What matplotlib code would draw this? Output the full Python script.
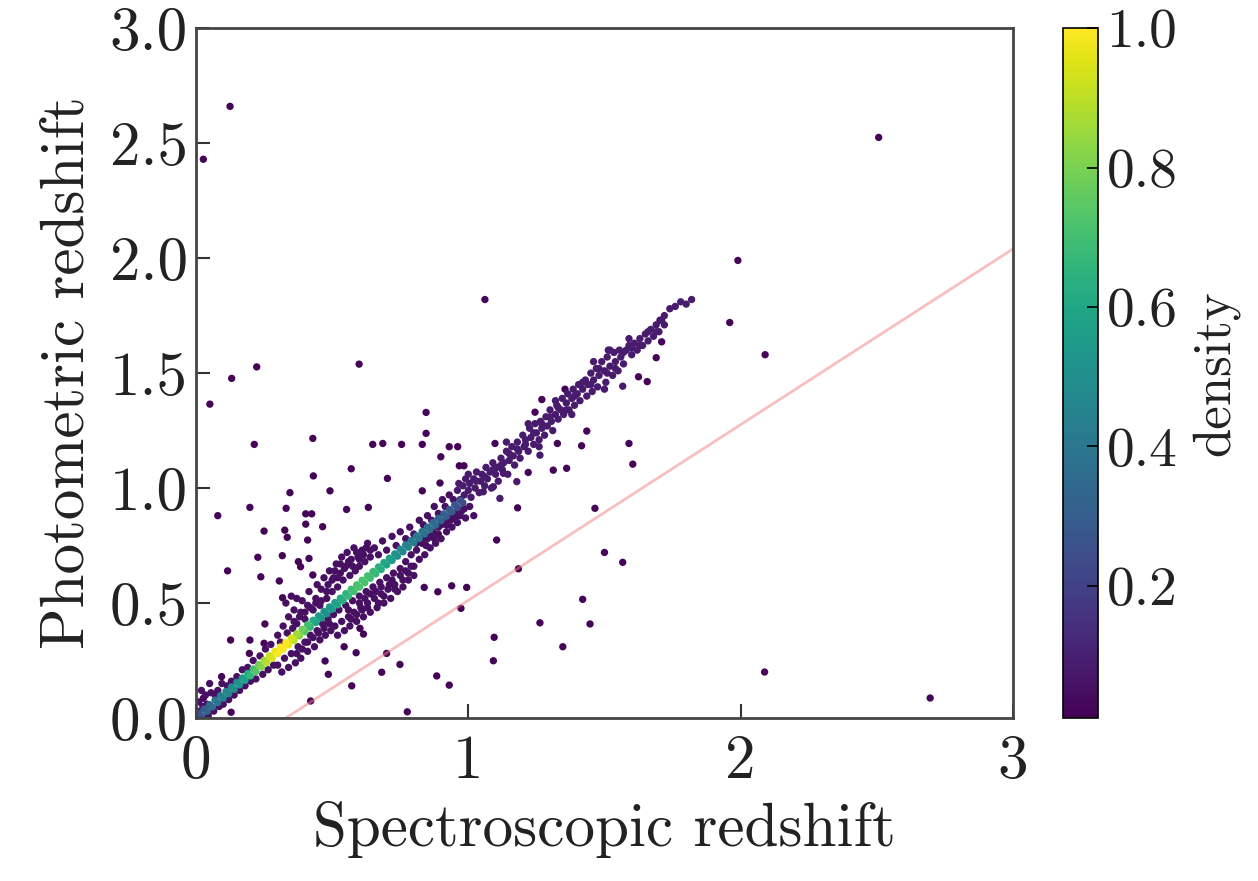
import matplotlib
matplotlib.use("Agg")
import matplotlib as mpl
from matplotlib import pyplot as plt
import numpy as np

mpl.rcParams["font.family"] = "cmr10"
mpl.rcParams["mathtext.fontset"] = "cm"
mpl.rcParams["axes.unicode_minus"] = False
mpl.rcParams["axes.formatter.use_mathtext"] = True

# 密集主带 (spec-z, photo-z, density)
core_x = [0.01, 0.02, 0.03, 0.04, 0.05, 0.06, 0.07, 0.08, 0.09, 0.10,
          0.11, 0.12, 0.13, 0.14, 0.15, 0.16, 0.17, 0.18, 0.19, 0.20,
          0.21, 0.22, 0.23, 0.24, 0.25, 0.26, 0.27, 0.28, 0.29, 0.30,
          0.31, 0.32, 0.33, 0.34, 0.35, 0.36, 0.37, 0.38, 0.39, 0.40,
          0.41, 0.42, 0.43, 0.44, 0.45, 0.46, 0.47, 0.48, 0.49, 0.50,
          0.51, 0.52, 0.53, 0.54, 0.55, 0.56, 0.57, 0.58, 0.59, 0.60,
          0.61, 0.62, 0.63, 0.64, 0.65, 0.66, 0.67, 0.68, 0.69, 0.70,
          0.71, 0.72, 0.73, 0.74, 0.75, 0.76, 0.77, 0.78, 0.79, 0.80,
          0.81, 0.82, 0.83, 0.84, 0.85, 0.86, 0.87, 0.88, 0.89, 0.90,
          0.91, 0.92, 0.93, 0.94, 0.95, 0.96, 0.97, 0.98]
core_y = [0.020, 0.009, 0.039, 0.029, 0.058, 0.048, 0.078, 0.067, 0.097, 0.087,
          0.116, 0.106, 0.135, 0.125, 0.155, 0.144, 0.174, 0.164, 0.193, 0.183,
          0.213, 0.202, 0.232, 0.222, 0.251, 0.241, 0.271, 0.260, 0.290, 0.280,
          0.309, 0.299, 0.328, 0.318, 0.348, 0.337, 0.367, 0.357, 0.386, 0.376,
          0.406, 0.395, 0.425, 0.415, 0.444, 0.434, 0.464, 0.453, 0.483, 0.473,
          0.502, 0.492, 0.521, 0.511, 0.541, 0.530, 0.560, 0.550, 0.579, 0.569,
          0.599, 0.588, 0.618, 0.608, 0.637, 0.627, 0.657, 0.646, 0.676, 0.666,
          0.695, 0.685, 0.714, 0.704, 0.734, 0.723, 0.753, 0.743, 0.772, 0.762,
          0.792, 0.781, 0.811, 0.801, 0.830, 0.820, 0.850, 0.839, 0.869, 0.859,
          0.888, 0.878, 0.907, 0.897, 0.927, 0.916, 0.946, 0.936]
core_d = [0.25, 0.28, 0.30, 0.32, 0.34, 0.36, 0.38, 0.40, 0.42, 0.44,
          0.46, 0.47, 0.48, 0.49, 0.50, 0.52, 0.55, 0.58, 0.62, 0.66,
          0.70, 0.74, 0.78, 0.82, 0.86, 0.89, 0.92, 0.95, 0.97, 0.99,
          1.00, 1.00, 0.99, 0.97, 0.94, 0.90, 0.86, 0.82, 0.78, 0.74,
          0.70, 0.66, 0.62, 0.58, 0.55, 0.53, 0.52, 0.52, 0.53, 0.55,
          0.57, 0.59, 0.61, 0.63, 0.65, 0.67, 0.69, 0.70, 0.71, 0.72,
          0.72, 0.71, 0.70, 0.69, 0.68, 0.66, 0.64, 0.62, 0.60, 0.58,
          0.56, 0.54, 0.52, 0.50, 0.48, 0.46, 0.45, 0.44, 0.43, 0.42,
          0.41, 0.40, 0.39, 0.38, 0.37, 0.36, 0.35, 0.34, 0.33, 0.32,
          0.31, 0.30, 0.29, 0.28, 0.27, 0.26, 0.25, 0.24]

# 主带周围的低密度点: 左下段 / 上侧 / 下侧
cloud_x = [0.005, 0.01, 0.015, 0.02, 0.025, 0.035, 0.04, 0.045, 0.055, 0.065,
           0.07, 0.08, 0.085, 0.095, 0.10, 0.115, 0.12, 0.13, 0.14, 0.15,
           0.16, 0.17, 0.18, 0.19, 0.20, 0.21, 0.22, 0.235, 0.245, 0.255,
           0.265, 0.275, 0.285, 0.05,
           0.30, 0.31, 0.32, 0.335, 0.34, 0.355, 0.36, 0.37, 0.385, 0.39,
           0.40, 0.41, 0.415, 0.43, 0.44, 0.445, 0.455, 0.46, 0.47, 0.48,
           0.485, 0.49, 0.50, 0.505, 0.515, 0.52, 0.53, 0.535, 0.54, 0.55,
           0.555, 0.565, 0.57, 0.58, 0.585, 0.595, 0.60, 0.61, 0.62, 0.63,
           0.64, 0.655, 0.67, 0.685, 0.70, 0.72, 0.735, 0.75, 0.77, 0.785,
           0.80, 0.82, 0.835, 0.85, 0.865, 0.875, 0.89, 0.905, 0.915, 0.93,
           0.945, 0.33, 0.35, 0.37,
           0.30, 0.315, 0.325, 0.34, 0.35, 0.365, 0.375, 0.385, 0.40, 0.41,
           0.42, 0.435, 0.445, 0.455, 0.465, 0.475, 0.485, 0.495, 0.505, 0.51,
           0.52, 0.525, 0.535, 0.545, 0.55, 0.56, 0.565, 0.575, 0.58, 0.59,
           0.60, 0.605, 0.615, 0.625, 0.63, 0.64, 0.65, 0.655, 0.665, 0.675,
           0.68, 0.69, 0.70, 0.705, 0.715, 0.725, 0.73, 0.74, 0.75, 0.76,
           0.77, 0.78, 0.79, 0.80, 0.81, 0.82, 0.83, 0.84, 0.85, 0.86,
           0.87, 0.88, 0.89, 0.90, 0.91, 0.92, 0.93, 0.94, 0.95, 0.96,
           0.975, 0.99, 1.005, 1.02]
cloud_y = [0.03, 0.07, 0.00, 0.12, 0.05, 0.10, 0.06, 0.01, 0.11, 0.03,
           0.10, 0.12, 0.05, 0.15, 0.06, 0.14, 0.08, 0.16, 0.10, 0.18,
           0.12, 0.21, 0.14, 0.22, 0.16, 0.25, 0.17, 0.27, 0.19, 0.30,
           0.21, 0.32, 0.23, 0.15,
           0.36, 0.33, 0.40, 0.37, 0.44, 0.39, 0.47, 0.41, 0.46, 0.51,
           0.43, 0.49, 0.55, 0.47, 0.52, 0.58, 0.49, 0.56, 0.61, 0.52,
           0.58, 0.64, 0.55, 0.61, 0.67, 0.57, 0.63, 0.70, 0.60, 0.66,
           0.72, 0.62, 0.69, 0.74, 0.64, 0.70, 0.66, 0.73, 0.68, 0.76,
           0.70, 0.74, 0.71, 0.77, 0.73, 0.79, 0.75, 0.81, 0.78, 0.83,
           0.80, 0.86, 0.84, 0.88, 0.86, 0.92, 0.89, 0.95, 0.92, 0.97,
           0.95, 0.50, 0.53, 0.52,
           0.23, 0.20, 0.26, 0.22, 0.28, 0.24, 0.31, 0.26, 0.33, 0.29,
           0.36, 0.31, 0.38, 0.34, 0.41, 0.36, 0.43, 0.38, 0.45, 0.40,
           0.36, 0.47, 0.42, 0.38, 0.49, 0.44, 0.40, 0.51, 0.46, 0.42,
           0.53, 0.48, 0.44, 0.55, 0.50, 0.46, 0.57, 0.52, 0.48, 0.59,
           0.54, 0.50, 0.61, 0.56, 0.52, 0.63, 0.58, 0.55, 0.65, 0.60,
           0.68, 0.63, 0.71, 0.66, 0.73, 0.69, 0.76, 0.71, 0.78, 0.74,
           0.81, 0.76, 0.83, 0.78, 0.85, 0.81, 0.87, 0.83, 0.89, 0.85,
           0.90, 0.87, 0.92, 0.88]

# 低密度团块的补充点
clump_x = [0.56, 0.57, 0.59, 0.60, 0.61, 0.62, 0.63, 0.64, 0.66, 0.67,
           0.68, 0.69, 0.71, 0.72, 0.73, 0.75, 0.76, 0.77, 0.78, 0.79, 0.80,
           0.50, 0.51, 0.52, 0.53, 0.545, 0.56, 0.575, 0.59, 0.60, 0.615,
           0.625, 0.64,
           0.81, 0.83, 0.845, 0.86, 0.875, 0.89, 0.90, 0.92, 0.935, 0.95,
           0.97, 0.985,
           0.36, 0.38, 0.40, 0.42, 0.44, 0.46, 0.48, 0.37, 0.39, 0.41,
           0.43, 0.45, 0.47, 0.49]
clump_y = [0.47, 0.43, 0.45, 0.50, 0.47, 0.52, 0.48, 0.54, 0.55, 0.50,
           0.57, 0.53, 0.58, 0.60, 0.56, 0.62, 0.57, 0.64, 0.60, 0.66, 0.62,
           0.60, 0.64, 0.61, 0.67, 0.65, 0.68, 0.66, 0.72, 0.69, 0.71,
           0.74, 0.73,
           0.76, 0.78, 0.75, 0.79, 0.78, 0.80, 0.84, 0.84, 0.86, 0.87,
           0.88, 0.91,
           0.42, 0.44, 0.46, 0.48, 0.50, 0.51, 0.55, 0.28, 0.30, 0.33,
           0.35, 0.37, 0.39, 0.41]

# z > 1 的带
band_x = [0.96, 0.965, 0.97, 0.98, 0.985, 0.99, 1.00, 1.005, 1.01, 1.02,
          1.025, 1.03, 1.04, 1.045, 1.05, 1.06, 1.065, 1.07, 1.08, 1.085,
          1.09, 1.10, 1.105, 1.11, 1.12, 1.125, 1.13, 1.14, 1.145, 1.15,
          1.16, 1.165, 1.17, 1.18, 1.185, 1.19, 1.20, 1.205, 1.21, 1.22,
          1.225, 1.23, 1.24, 1.245, 1.25, 1.26, 1.265, 1.27, 1.28, 1.285,
          1.29, 1.30, 1.305, 1.31, 1.32, 1.325, 1.33, 1.34, 1.345, 1.35,
          1.36, 1.365, 1.37, 1.38, 1.385, 1.39, 1.40, 1.405, 1.41, 1.42,
          1.43, 1.435, 1.44, 1.45, 1.455, 1.46, 1.47, 1.475, 1.48, 1.49,
          1.50, 1.505, 1.51, 1.52, 1.53, 1.535, 1.54, 1.55, 1.555, 1.56,
          1.57, 1.58, 1.59, 1.60, 1.61, 1.62, 1.63, 1.64, 1.65, 1.66,
          1.67, 1.68, 1.69, 1.70, 1.71, 1.72, 1.74, 1.76, 1.78, 1.80,
          1.82, 1.116, 1.055, 1.092, 1.178, 1.129, 1.263, 1.514, 1.567,
          1.00, 1.03, 1.06, 1.09, 1.12, 1.15, 1.18, 1.21, 1.24, 1.27,
          1.30, 1.33, 1.36, 1.39, 1.42, 1.45, 1.48, 1.51, 1.54, 1.57,
          1.60, 1.63, 1.66, 1.69, 1.72, 1.14, 1.22, 1.32, 1.46, 1.52,
          1.59, 1.38, 1.26, 1.50]
band_y = [0.99, 1.02, 0.95, 1.01, 0.97, 1.04, 0.99, 1.02, 0.96, 1.04,
          1.00, 1.07, 0.98, 1.03, 1.06, 1.01, 1.09, 1.04, 1.07, 1.00,
          1.11, 1.06, 1.09, 1.03, 1.13, 1.08, 1.11, 1.16, 1.06, 1.12,
          1.18, 1.14, 1.10, 1.20, 1.16, 1.13, 1.23, 1.18, 1.21, 1.16,
          1.26, 1.22, 1.19, 1.28, 1.24, 1.21, 1.29, 1.26, 1.23, 1.31,
          1.27, 1.34, 1.29, 1.25, 1.32, 1.36, 1.30, 1.34, 1.39, 1.32,
          1.37, 1.41, 1.34, 1.39, 1.43, 1.36, 1.41, 1.45, 1.38, 1.43,
          1.47, 1.40, 1.45, 1.50, 1.42, 1.47, 1.52, 1.44, 1.49, 1.55,
          1.51, 1.46, 1.57, 1.53, 1.49, 1.59, 1.55, 1.51, 1.60, 1.57,
          1.54, 1.60, 1.62, 1.58, 1.63, 1.60, 1.65, 1.62, 1.67, 1.64,
          1.69, 1.66, 1.71, 1.68, 1.73, 1.75, 1.78, 1.79, 1.81, 1.80,
          1.82, 0.955, 0.984, 1.006, 1.028, 1.064, 1.143, 1.60, 1.443,
          1.06, 1.03, 1.05, 1.08, 1.10, 1.15, 1.17, 1.19, 1.24, 1.28,
          1.31, 1.35, 1.34, 1.40, 1.46, 1.45, 1.52, 1.50, 1.52, 1.59,
          1.61, 1.62, 1.68, 1.68, 1.71, 1.20, 1.28, 1.38, 1.55, 1.60,
          1.65, 1.32, 1.18, 1.43]

# 离群点
out_x = [0.125, 0.027, 2.507, 1.99, 1.96, 2.09, 1.061,
         0.051, 0.131, 0.223, 0.599,
         0.214, 0.429, 0.845, 0.845, 0.649, 0.686, 0.755, 0.831, 0.930, 0.961, 0.899,
         0.570, 0.431, 0.703, 0.967, 0.984, 0.896, 0.831, 0.345, 0.492,
         0.080, 0.198, 0.331, 0.553, 0.633, 0.403, 0.425,
         0.250, 0.326, 0.335, 0.410, 0.465, 0.403,
         0.116, 0.227, 0.317, 0.238, 0.306, 0.376, 0.384, 0.429, 0.415, 0.318,
         1.181, 1.465, 1.50, 1.567, 1.104, 1.184, 1.42, 1.447, 1.263, 1.347, 1.095, 1.092,
         0.973, 0.838, 0.888, 0.939, 0.994,
         0.700, 0.749, 0.682, 0.884, 0.930, 0.776, 0.572, 0.421, 0.474, 0.486, 0.544, 0.588, 0.615, 0.602,
         0.127, 0.198, 0.253, 0.196, 0.250, 0.129, 0.094, 0.027, 2.088, 2.696,
         1.355, 1.270, 1.245, 1.435, 1.416, 1.590, 1.604, 1.327, 1.312, 1.361, 1.220, 1.098,
         1.625, 1.657, 1.690, 1.710, 1.704]
out_y = [2.66, 2.43, 2.525, 1.99, 1.72, 1.58, 1.82,
         1.365, 1.477, 1.527, 1.539,
         1.19, 1.216, 1.329, 1.238, 1.19, 1.194, 1.19, 1.19, 1.18, 1.18, 1.136,
         1.084, 1.053, 1.042, 1.097, 1.097, 1.022, 0.988, 0.98, 0.988,
         0.88, 0.916, 0.912, 0.907, 0.916, 0.888, 0.888,
         0.813, 0.817, 0.786, 0.774, 0.832, 0.843,
         0.64, 0.699, 0.706, 0.614, 0.596, 0.68, 0.658, 0.622, 0.694, 0.523,
         0.914, 0.912, 0.72, 0.677, 0.774, 0.649, 0.516, 0.409, 0.414, 0.31, 0.351, 0.249,
         0.477, 0.568, 0.549, 0.575, 0.568,
         0.281, 0.233, 0.199, 0.183, 0.143, 0.027, 0.14, 0.074, 0.248, 0.19, 0.31, 0.284, 0.365, 0.39,
         0.339, 0.339, 0.409, 0.281, 0.325, 0.025, 0.18, 0.086, 0.20, 0.087,
         1.43, 1.385, 1.33, 1.248, 1.184, 1.194, 1.104, 1.194, 1.078, 1.086, 1.068, 1.194,
         1.484, 1.463, 1.567, 1.636, 1.73]

cloud_density = 0.05
band_density = 0.08
out_density = 0.02

# 参考线
ref_x = [0.33, 3.0]
ref_y = [0.0, 2.04]

x = np.concatenate([out_x, cloud_x, clump_x, band_x, core_x])
y = np.concatenate([out_y, cloud_y, clump_y, band_y, core_y])
d = np.concatenate([np.full(len(out_x), out_density),
                    np.full(len(cloud_x) + len(clump_x), cloud_density),
                    np.full(len(band_x), band_density),
                    core_d])
order = np.argsort(d, kind="stable")

fig = plt.figure(figsize=(12.58, 8.81), dpi=100)
ax = fig.add_axes([0.1558, 0.185, 0.6494, 0.783])
cax = fig.add_axes([0.845, 0.185, 0.028, 0.783])

sc = ax.scatter(x[order], y[order], c=d[order], cmap="viridis", vmin=0.01, vmax=1.0,
                s=28, linewidths=0)
ax.plot(ref_x, ref_y, color="lightcoral", alpha=0.5, lw=2)

ax.set_xlim(0, 3)
ax.set_ylim(0, 3)
ax.set_xticks([0, 1, 2, 3])
ax.set_xticklabels(["0", "1", "2", "3"])
ax.set_yticks([0.0, 0.5, 1.0, 1.5, 2.0, 2.5, 3.0])
ax.set_yticklabels(["0.0", "0.5", "1.0", "1.5", "2.0", "2.5", "3.0"])
ax.tick_params(direction="in", length=10, width=1.5, labelsize=44, color="#333333",
               labelcolor="#222222")
ax.tick_params(axis="x", pad=12)
ax.tick_params(axis="y", pad=6)
for sp in ax.spines.values():
    sp.set_linewidth(2)
    sp.set_color("#444444")
ax.set_xlabel("Spectroscopic redshift", fontsize=44, labelpad=8, color="#222222")
ax.set_ylabel("Photometric redshift", fontsize=44, labelpad=10, color="#222222")

cb = fig.colorbar(sc, cax=cax)
cb.set_ticks([0.2, 0.4, 0.6, 0.8, 1.0])
cb.set_ticklabels(["0.2", "0.4", "0.6", "0.8", "1.0"])
cb.ax.tick_params(direction="in", length=8, width=1.2, labelsize=40, pad=6,
                  labelcolor="#222222")
cb.outline.set_linewidth(1.2)
cb.set_label("density", fontsize=38, labelpad=10, color="#222222")

plt.savefig("out.png", dpi=100)
